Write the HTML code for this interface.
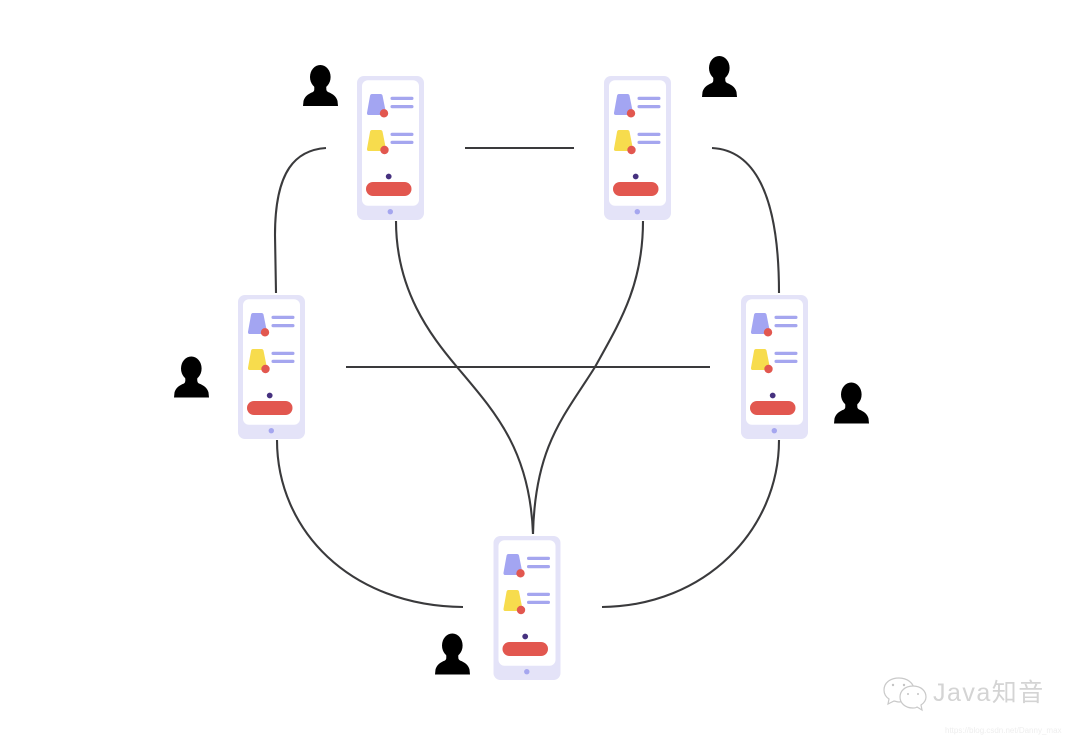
<!DOCTYPE html>
<html><head><meta charset="utf-8">
<style>html,body{margin:0;padding:0;background:#fff}svg{display:block}</style>
</head><body>
<svg xmlns="http://www.w3.org/2000/svg" width="1080" height="740" viewBox="0 0 1080 740">
<defs>
<g id="phone" style="filter:blur(.35px)">
  <rect x="0" y="0" width="67" height="144" rx="7" fill="#e4e3f8"/>
  <rect x="5" y="4.300" width="57" height="125.500" rx="6" fill="#fff"/>
  <path d="M15 18H23.500q1.500 0 2 1.500L29 37q.4 2-1.500 2H12q-2.300 0-2-2.300L13 20q.3-2 2-2z" fill="#a3a5f2"/>
  <circle cx="27" cy="37.300" r="4.200" fill="#e2574f"/>
  <rect x="33.500" y="20.800" width="23" height="3.200" rx="1.600" fill="#a5a6ef"/>
  <rect x="33.500" y="29" width="23" height="3.200" rx="1.600" fill="#a5a6ef"/>
  <path d="M15 54H23.500q1.500 0 2 1.500L29 73q.4 2-1.500 2H12q-2.300 0-2-2.300L13 56q.3-2 2-2z" fill="#f7dc4d"/>
  <circle cx="27.500" cy="74" r="4.200" fill="#e2574f"/>
  <rect x="33.500" y="56.800" width="23" height="3.200" rx="1.600" fill="#a5a6ef"/>
  <rect x="33.500" y="64.800" width="23" height="3.200" rx="1.600" fill="#a5a6ef"/>
  <circle cx="31.700" cy="100.500" r="2.900" fill="#46317f"/>
  <rect x="9" y="106" width="45.500" height="14" rx="7" fill="#e2574f"/>
  <circle cx="33.300" cy="135.700" r="2.700" fill="#a5a6ef"/>
</g>
<g id="person">
  <ellipse cx="17.300" cy="12" rx="10.300" ry="12" fill="#000"/>
  <path d="M0 41L.5 36Q2 30 10 27Q12 26 11 20H23.500Q22.500 26 25 27Q33 30 34.500 36L35 41Z" fill="#000"/>
</g>
</defs>

<g fill="none" stroke="#3a3a3c" stroke-width="2.100">
  <path d="M326 148C296 150 275 170 275 235L276 293"/>
  <path d="M465 148H574"/>
  <path d="M712 148C752 150 779 190 779 293"/>
  <path d="M346 367H710"/>
  <path d="M277 440C277 530 350 606 463 607"/>
  <path d="M779 440C779 530 705 606 602 607"/>
  <path d="M396 221C396 290 430 335 457 367C495 412 530 450 533 534"/>
  <path d="M643 221C643 285 620 322 595 367C565 415 535 445 533 534"/>
</g>

<use href="#phone" x="357" y="76"/>
<use href="#phone" x="604" y="76"/>
<use href="#phone" x="238" y="295"/>
<use href="#phone" x="741" y="295"/>
<use href="#phone" x="493.500" y="536"/>

<use href="#person" x="303" y="65"/>
<use href="#person" x="702" y="56"/>
<use href="#person" x="174" y="356.500"/>
<use href="#person" x="834" y="382.500"/>
<use href="#person" x="435" y="633.500"/>

<g fill="#fff" stroke="#c9c9c9" stroke-width="1.200">
  <path d="M899 678c-9 0-15 5-15 12 0 4 2 7 5 9l-1 5 6-3c1 0 3 1 5 1 6 0 15-6 15-12 0-7-7-12-15-12z"/>
  <path d="M913 686c-8 0-13 5-13 11s5 11 13 11c2 0 3 0 4-1l5 3-1-5c3-2 5-5 5-8 0-6-5-11-13-11z"/>
</g>
<g fill="#c4c4c4">
  <circle cx="893" cy="685" r="1.200"/><circle cx="904" cy="685" r="1.200"/>
  <circle cx="908" cy="694" r="1"/><circle cx="918" cy="694" r="1"/>
</g>
<text x="933" y="701" font-family="'Liberation Sans','Noto Sans CJK SC',sans-serif" font-size="25" fill="#d4d4d4" letter-spacing="1.500">Java知音</text>
<text x="945" y="733" font-family="'Liberation Sans',sans-serif" font-size="8" fill="#eeeeee">https://blog.csdn.net/Danny_max</text>
</svg>
</body></html>
